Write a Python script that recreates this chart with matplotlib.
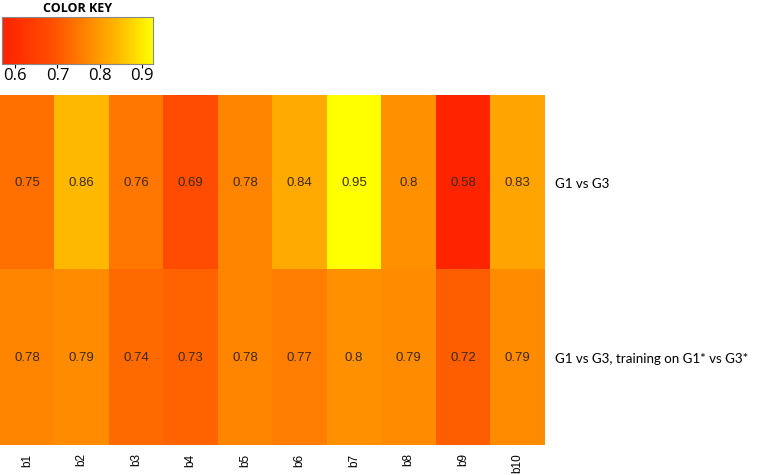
import numpy as np
import matplotlib
matplotlib.use('Agg')
import matplotlib.pyplot as plt
from matplotlib.colors import LinearSegmentedColormap, Normalize

# data
cols = ['b1', 'b2', 'b3', 'b4', 'b5', 'b6', 'b7', 'b8', 'b9', 'b10']
rows = ['G1 vs G3', 'G1 vs G3, training on G1* vs G3*']
row1 = [0.75, 0.86, 0.76, 0.69, 0.78, 0.84, 0.95, 0.8, 0.58, 0.83]
row2 = [0.78, 0.79, 0.74, 0.73, 0.78, 0.77, 0.8, 0.79, 0.72, 0.79]
key_ticks = [0.6, 0.7, 0.8, 0.9]

vals = np.array([row1, row2])

# heat-like colour scale, red -> orange -> yellow
vmin, vmax = 0.57, 0.95
nodes = [(0.57, (1.0, 0.13, 0.0)), (0.69, (1.0, 0.30, 0.0)), (0.75, (1.0, 0.44, 0.0)),
         (0.80, (1.0, 0.57, 0.0)), (0.86, (1.0, 0.72, 0.0)), (0.95, (1.0, 1.0, 0.0))]
cmap = LinearSegmentedColormap.from_list(
    'heatish', [((v - vmin) / (vmax - vmin), c) for v, c in nodes])

fig = plt.figure(figsize=(7.61, 4.75), dpi=100)

# main heatmap
ax = fig.add_axes([0.0, 0.063, 0.716, 0.737])
ax.imshow(vals, cmap=cmap, norm=Normalize(vmin, vmax), aspect='auto',
          interpolation='nearest')
for i in range(vals.shape[0]):
    for j in range(vals.shape[1]):
        ax.text(j, i, f'{vals[i, j]:g}', ha='center', va='center',
                fontsize=9.5, color='#3a2a10', family='Liberation Sans')
ax.set_xticks(range(len(cols)))
ax.set_xticklabels(cols, rotation=90, fontsize=8.5, family='Liberation Sans')
ax.set_yticks(range(len(rows)))
ax.set_yticklabels(rows, fontsize=9.6, family='Lato')
ax.yaxis.tick_right()
ax.tick_params(axis='y', length=0, pad=7)
ax.tick_params(axis='x', length=0, pad=6)
for s in ax.spines.values():
    s.set_visible(False)

# colour key
kax = fig.add_axes([0.003, 0.865, 0.198, 0.099])
grad = np.linspace(0.57, 0.925, 256)[None, :]
kax.imshow(grad, cmap=cmap, norm=Normalize(0.57, 0.925), aspect='auto',
           extent=[0.57, 0.925, 0, 1])
kax.set_xlim(0.57, 0.925)
kax.set_yticks([])
kax.set_xticks(key_ticks)
kax.set_xticklabels([f'{t:g}' for t in key_ticks], fontsize=12, family='Open Sans')
kax.tick_params(axis='x', length=3, pad=0)
for s in kax.spines.values():
    s.set_color('#888888')
    s.set_linewidth(0.8)
kax.set_title('COLOR KEY', fontsize=9, fontweight='bold', family='Open Sans', pad=4)

fig.savefig('out.png', dpi=100)
